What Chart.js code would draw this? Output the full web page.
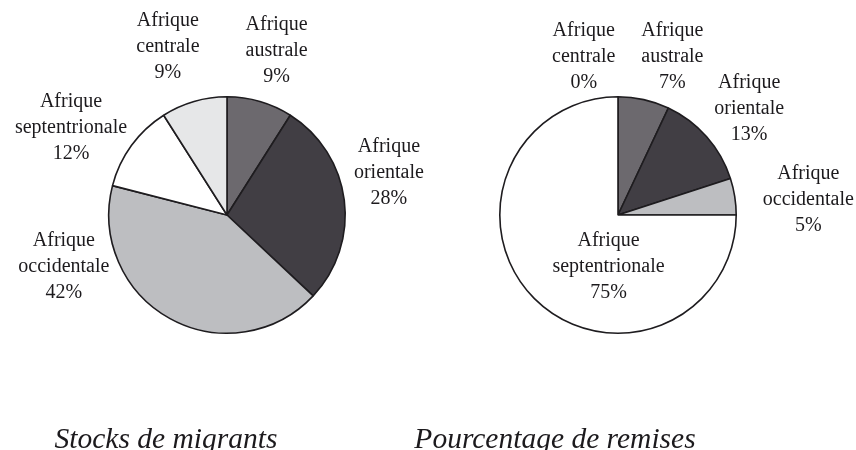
<!DOCTYPE html>
<html>
<head>
<meta charset="utf-8">
<script src="https://cdn.jsdelivr.net/npm/chart.js@4"></script>
<style>
  html, body { margin: 0; padding: 0; background: #fff; }
  #wrap { position: relative; width: 856px; height: 450px; overflow: hidden; }
  .pane { position: absolute; top: 0; left: 0; width: 856px; height: 450px; }
</style>
</head>
<body>
<div id="wrap">
  <div class="pane"><canvas id="stocks"></canvas></div>
  <div class="pane"><canvas id="remises"></canvas></div>
</div>
<script>
// slices clockwise from 12 o'clock
const stockRegions = ["australe", "orientale", "occidentale", "septentrionale", "centrale"];
const stockValues = [9, 28, 42, 12, 9];

const remiseRegions = ["centrale", "australe", "orientale", "occidentale", "septentrionale"];
const remiseValues = [0, 7, 13, 5, 75];

const regionColors = {
  australe: "#6c696e",
  orientale: "#413e44",
  occidentale: "#bdbec1",
  septentrionale: "#ffffff",
  centrale: "#e6e7e8",
};

// where each label block sits, relative to pie centre, in radius units
const stockLabelPos = [[0.42, -1.39], [1.37, -0.36], [-1.38, 0.44], [-1.32, -0.74], [-0.50, -1.42]];
const remiseLabelPos = [[-0.29, -1.34], [0.46, -1.34], [1.11, -0.90], [1.61, -0.13], [-0.08, 0.44]];

const labelFont = '20px "Liberation Serif", "Times New Roman", serif';
const captionFont = 'italic 29.5px "Liberation Serif", "Times New Roman", serif';

const pieLabels = {
  id: "pieLabels",
  afterDraw(chart, args, opts) {
    const ctx = chart.ctx;
    const arcs = chart.getDatasetMeta(0).data;
    const values = chart.data.datasets[0].data;
    ctx.save();
    ctx.fillStyle = "#1c1a1d";
    ctx.font = labelFont;
    ctx.textAlign = "center";
    ctx.textBaseline = "middle";
    arcs.forEach((arc, i) => {
      const r = arc.outerRadius;
      const [fx, fy] = opts.pos[i];
      const x = arc.x + fx * r;
      const y = arc.y + fy * r;
      const lines = ["Afrique", chart.data.labels[i], values[i] + "%"];
      lines.forEach((t, k) => ctx.fillText(t, x, y + (k - 1) * 26));
    });
    ctx.font = captionFont;
    ctx.textBaseline = "alphabetic";
    ctx.fillText(opts.caption, opts.captionX, 448);
    ctx.restore();
  },
};

function makePie(id, regions, values, pos, caption, captionX, padding) {
  return new Chart(document.getElementById(id), {
    type: "pie",
    data: {
      labels: regions,
      datasets: [{
        data: values,
        backgroundColor: regions.map((r) => regionColors[r]),
        borderColor: "#1e1c1f",
        borderWidth: 1.6,
      }],
    },
    options: {
      responsive: true,
      maintainAspectRatio: false,
      animation: false,
      layout: { padding },
      plugins: {
        legend: { display: false },
        tooltip: { enabled: false },
        pieLabels: { pos, caption, captionX },
      },
    },
    plugins: [pieLabels],
  });
}

makePie("stocks", stockRegions, stockValues, stockLabelPos, "Stocks de migrants", 166,
  { left: 108, right: 510, top: 96, bottom: 116 });
makePie("remises", remiseRegions, remiseValues, remiseLabelPos, "Pourcentage de remises", 555,
  { left: 499, right: 119, top: 96, bottom: 116 });
</script>
</body>
</html>
